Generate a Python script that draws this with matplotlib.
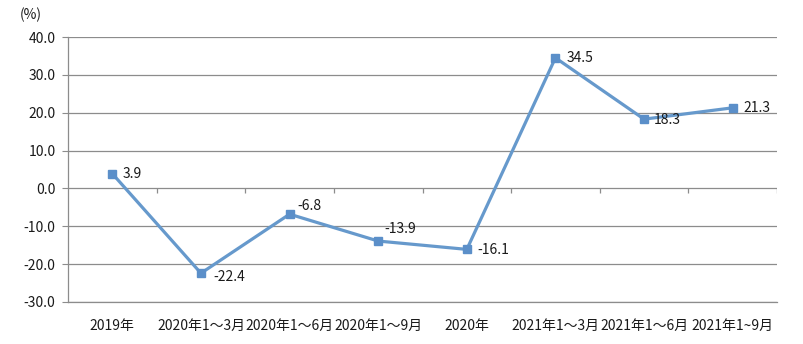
import matplotlib.pyplot as plt
import numpy as np

plt.rcParams['font.family'] = ['Noto Sans CJK SC', 'DejaVu Sans']

# Growth rate by period (%)
periods = ["2019年", "2020年1～3月", "2020年1～6月", "2020年1～9月", "2020年",
           "2021年1～3月", "2021年1～6月", "2021年1~9月"]
growth = [3.9, -22.4, -6.8, -13.9, -16.1, 34.5, 18.3, 21.3]
yticks = [40, 30, 20, 10, 0, -10, -20, -30]

# label offsets in pixels (dx, dy)
label_offsets = [(10, 0), (12, -4), (8, 8), (6, 12), (11, -1), (11, 0), (10, -1), (11, 0)]

line_color = "#6699CC"
marker_color = "#5B8FC9"
grid_color = "#8C8C8C"
text_color = "#1A1A1A"
fs = 10

fig = plt.figure(figsize=(8.04, 3.44), dpi=100)
ax = fig.add_axes([0.0846, 0.1221, 0.9664 - 0.0846, 0.8924 - 0.1221])

x = np.arange(len(periods))
ax.plot(x, growth, color=line_color, linewidth=2.3, marker="s", markersize=6,
        markerfacecolor=marker_color, markeredgecolor=marker_color, zorder=3)

for xi, v, (dx, dy) in zip(x, growth, label_offsets):
    ax.annotate(f"{v:.1f}", (xi, v), xytext=(dx, dy), textcoords="offset pixels",
                ha="left", va="center", fontsize=fs, color=text_color, zorder=4)

ax.set_xlim(-0.5, len(periods) - 0.5)
ax.set_ylim(-30, 40)

ax.set_yticks(yticks)
ax.set_yticklabels([f"{t:.1f}" for t in yticks])
ax.yaxis.grid(True, color=grid_color, linewidth=0.9)
ax.set_axisbelow(True)
ax.tick_params(axis="y", length=4, color=grid_color, labelsize=fs, pad=5, labelcolor=text_color)

ax.set_xticks(x)
ax.set_xticklabels(periods)
ax.tick_params(axis="x", length=0, labelsize=fs, pad=12, labelcolor=text_color)

for side in ["top", "right", "bottom"]:
    ax.spines[side].set_visible(False)
ax.spines["left"].set_color(grid_color)
ax.spines["left"].set_linewidth(0.9)

# bottom gridline, kept unclipped at the axis edge
ax.axhline(-30, color=grid_color, linewidth=0.9, clip_on=False, zorder=1)

# category boundary ticks hanging below the zero line
bounds = np.arange(len(periods) + 1) - 0.5
ax.vlines(bounds[1:], -1.3, 0, color=grid_color, linewidth=0.9)

fig.text(20 / 804, 1 - 15 / 344, "(%)", fontsize=fs, va="center", ha="left", color=text_color)

fig.savefig("out.png", dpi=100)
